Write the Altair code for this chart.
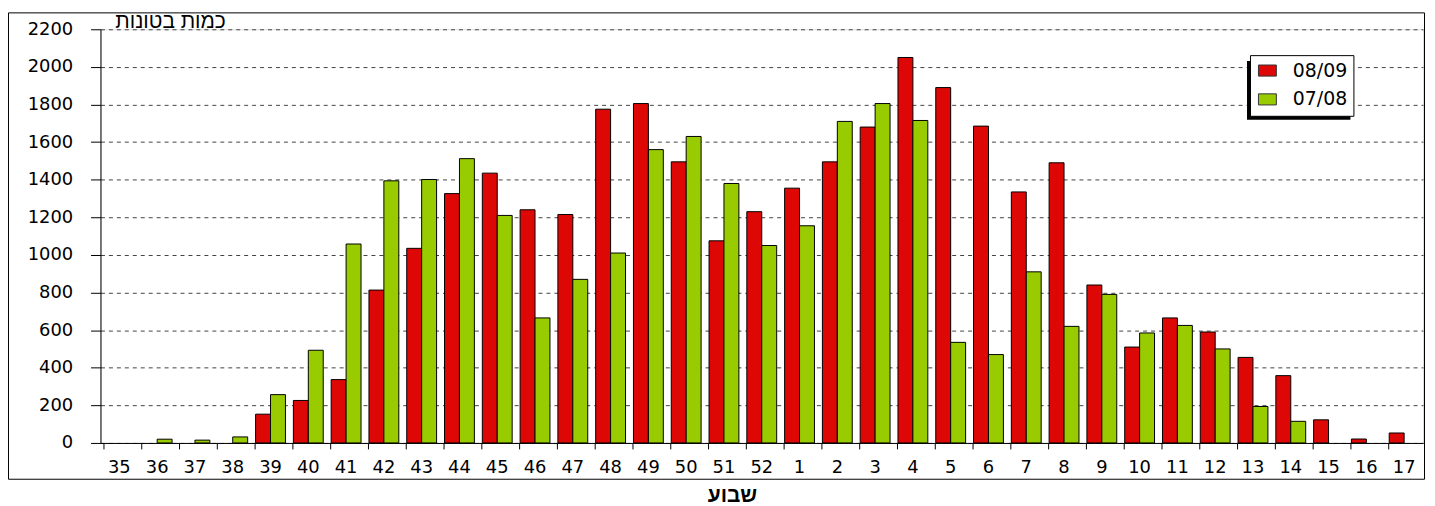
import altair as alt
import pandas as pd

weeks = ["35", "36", "37", "38", "39", "40", "41", "42", "43", "44", "45", "46",
         "47", "48", "49", "50", "51", "52", "1", "2", "3", "4", "5", "6", "7",
         "8", "9", "10", "11", "12", "13", "14", "15", "16", "17"]
s0809 = [0, 0, 0, 0, 153, 226, 337, 813, 1035, 1326, 1435, 1240, 1215, 1775,
         1805, 1495, 1075, 1230, 1355, 1495, 1680, 2050, 1890, 1685, 1335, 1490,
         840, 510, 665, 590, 455, 358, 123, 21, 53]
s0708 = [0, 20, 15, 32, 257, 493, 1058, 1394, 1401, 1512, 1210, 665, 870, 1010,
         1560, 1630, 1380, 1050, 1155, 1710, 1805, 1715, 535, 470, 910, 620,
         790, 585, 625, 500, 194, 115, 0, 0, 0]
seasons = ["08/09", "07/08"]
colors = ["#DD0806", "#99CC00"]
y_ticks = list(range(0, 2201, 200))

rows = []
for i, w in enumerate(weeks):
    rows.append({"week": w, "season": seasons[0], "value": s0809[i]})
    rows.append({"week": w, "season": seasons[1], "value": s0708[i]})
df = pd.DataFrame(rows)

W, H = 1330, 416
FONT = "DejaVu Sans"
HEB = "Liberation Sans"

bars = alt.Chart(df).transform_filter("datum.value > 0").mark_bar(
    stroke="black", strokeWidth=1).encode(
    x=alt.X("week:N", sort=weeks,
            scale=alt.Scale(domain=weeks, paddingInner=0.21, paddingOuter=0.105),
            axis=alt.Axis(title="שבוע", bandPosition=0,
                          labelAngle=0, labelFont=FONT, labelFontSize=18,
                          labelColor="black", labelPadding=10, tickSize=6,
                          tickColor="black", domainColor="black", grid=False,
                          titleFont=HEB, titleFontSize=21, titleFontWeight="bold",
                          titleColor="black", titleX=635, titleY=59,
                          titleAlign="center", titleBaseline="alphabetic")),
    xOffset=alt.XOffset("season:N", sort=seasons,
                        scale=alt.Scale(domain=seasons, paddingInner=0, paddingOuter=0)),
    y=alt.Y("value:Q",
            scale=alt.Scale(domain=[0, 2200], nice=False),
            axis=alt.Axis(title="כמות בטונות", values=y_ticks, format="d",
                          labelFont=FONT, labelFontSize=18, labelColor="black",
                          labelPadding=18, tickSize=10, tickColor="black",
                          domainColor="black", grid=True, gridColor="#444444",
                          gridDash=[4, 4], gridWidth=1,
                          titleAngle=0, titleX=70, titleY=-2,
                          titleAlign="center", titleBaseline="alphabetic",
                          titleFont=HEB, titleFontSize=21, titleFontWeight="normal",
                          titleColor="black")),
    color=alt.Color("season:N", sort=seasons,
                    scale=alt.Scale(domain=seasons, range=colors),
                    legend=alt.Legend(title=None, orient="none", legendX=1156, legendY=26,
                                      fillColor="white", strokeColor="black",
                                      padding=6, symbolOffset=2,
                                      labelFont=FONT, labelFontSize=19,
                                      labelColor="black", labelOffset=16,
                                      symbolType="M-1,-0.62H1V0.62H-1Z", symbolSize=324,
                                      symbolStrokeColor="#333333", symbolStrokeWidth=1,
                                      rowPadding=9)),
)

one = alt.Data(values=[{"k": 1}])
frame = alt.Chart(one).mark_rect(fill="transparent", stroke="black", strokeWidth=1, clip=False).encode(
    x=alt.value(-92.5), x2=alt.value(1331.5), y=alt.value(-16.5), y2=alt.value(452.5))
shadow = alt.Chart(one).mark_rect(fill="black", clip=False).encode(
    x=alt.value(1153), x2=alt.value(1257), y=alt.value(32), y2=alt.value(91))

chart = alt.layer(frame, bars, shadow).properties(
    width=W, height=H,
    padding={"left": 93, "top": 20, "right": 4, "bottom": 62},
    autosize=alt.AutoSizeParams(type="none"),
).configure_view(strokeWidth=0).configure(background="white")

chart.save("out.html", embed_options={"renderer": "svg", "actions": False})
